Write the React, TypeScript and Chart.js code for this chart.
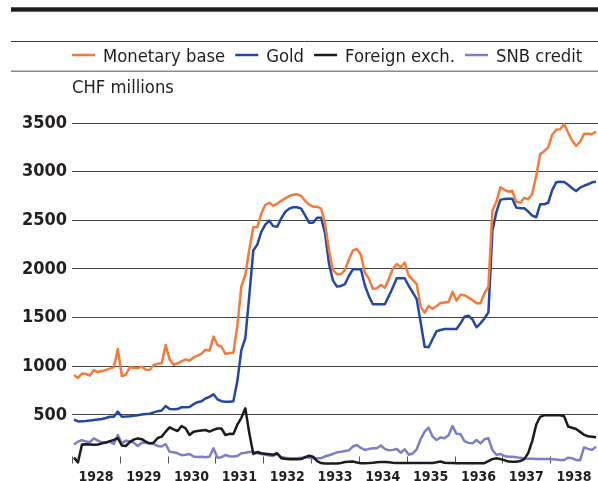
import React, { useEffect, useRef } from 'react';
import { Chart, registerables } from 'chart.js';

Chart.register(...registerables);

// Years shown on the x axis
const YEARS = [1928, 1929, 1930, 1931, 1932, 1933, 1934, 1935, 1936, 1937, 1938];
// Y axis ticks
const Y_TICKS = [0, 500, 1000, 1500, 2000, 2500, 3000, 3500];

const SERIES_LABELS = ['Monetary base', 'Gold', 'Foreign exch.', 'SNB credit'];
const SERIES_COLORS = ['#f47b3c', '#2448a0', '#1c1c1c', '#7b80c6'];

// Monthly values, CHF millions, Jan 1928 .. Dec 1938
const monetaryBase = [
  910, 880, 925, 920, 905, 960, 940, 950, 962, 975, 990, 1177,
  900, 912, 990, 985, 980, 995, 965, 961, 1013, 1025, 1030, 1218,
  1070, 1015, 1030, 1050, 1070, 1057, 1090, 1110, 1130, 1170, 1160, 1304,
  1218, 1200, 1126, 1135, 1139, 1420, 1820, 1940, 2200, 2428, 2428, 2570,
  2657, 2680, 2650, 2670, 2700, 2725, 2750, 2762, 2767, 2750, 2700, 2660,
  2640, 2640, 2620, 2470, 2190, 1990, 1945, 1945, 1990, 2100, 2190, 2205,
  2145, 1960, 1900, 1795, 1801, 1835, 1807, 1900, 2000, 2051, 2017, 2065,
  1930, 1890, 1845, 1610, 1550, 1620, 1590, 1620, 1650, 1655, 1660, 1766,
  1674, 1735, 1730, 1705, 1680, 1647, 1647, 1750, 1818, 2600, 2690, 2839,
  2815, 2794, 2804, 2690, 2681, 2730, 2716, 2770, 2960, 3180, 3210, 3250,
  3380, 3430, 3436, 3490, 3400, 3320, 3265, 3305, 3390, 3390, 3384, 3411,
];

const gold = [
  450, 432, 435, 438, 442, 448, 453, 458, 468, 480, 481, 533,
  481, 483, 486, 490, 495, 503, 509, 512, 525, 538, 545, 591,
  560, 557, 560, 578, 578, 580, 610, 630, 640, 668, 685, 711,
  660, 640, 635, 635, 640, 850, 1165, 1290, 1730, 2190, 2250, 2380,
  2455, 2496, 2440, 2434, 2520, 2585, 2620, 2634, 2634, 2620, 2550, 2475,
  2475, 2527, 2527, 2367, 2050, 1880, 1818, 1825, 1845, 1930, 1996, 1996,
  1996, 1830, 1720, 1637, 1637, 1637, 1637, 1720, 1810, 1904, 1904, 1904,
  1825, 1760, 1690, 1450, 1200, 1195, 1280, 1360, 1372, 1383, 1383, 1383,
  1383, 1440, 1509, 1519, 1480, 1400, 1440, 1490, 1554, 2390, 2585, 2710,
  2720, 2722, 2722, 2630, 2623, 2623, 2590, 2548, 2531, 2665, 2665, 2680,
  2810, 2890, 2897, 2893, 2865, 2830, 2800, 2835, 2855, 2870, 2890, 2897,
];

const foreignExch = [
  60, 12, 195, 198, 196, 192, 195, 207, 215, 230, 242, 260,
  185, 180, 220, 245, 258, 250, 225, 207, 214, 262, 276, 327,
  372, 351, 334, 385, 362, 293, 327, 335, 340, 344, 328, 345,
  360, 360, 293, 305, 303, 400, 470, 567, 310, 98, 118, 105,
  100, 95, 90, 105, 55, 48, 43, 43, 43, 45, 64, 80,
  70, 25, 5, 0, 0, 0, 0, 5, 15, 18, 20, 10,
  3, 3, 5, 8, 12, 15, 15, 12, 8, 5, 5, 5,
  5, 5, 5, 5, 5, 5, 5, 12, 20, 8, 5, 5,
  3, 3, 3, 3, 3, 3, 3, 3, 25, 45, 53, 45,
  35, 20, 19, 19, 25, 45, 110, 230, 400, 480, 495, 495,
  495, 495, 495, 485, 380, 368, 355, 325, 295, 280, 276, 270,
];

const snbCredit = [
  195, 224, 240, 225, 220, 259, 235, 218, 218, 224, 200, 293,
  207, 235, 230, 215, 180, 214, 212, 205, 200, 180, 175, 200,
  121, 115, 105, 85, 90, 98, 72, 68, 70, 65, 70, 156,
  60, 65, 87, 75, 72, 77, 105, 110, 118, 121, 105, 98,
  90, 82, 77, 98, 68, 60, 55, 53, 53, 58, 68, 60,
  53, 53, 55, 72, 85, 98, 115, 121, 128, 135, 175, 190,
  160, 139, 150, 156, 156, 185, 150, 135, 140, 149, 111, 146,
  90, 103, 146, 250, 327, 368, 276, 242, 268, 259, 290, 385,
  305, 300, 230, 212, 207, 242, 207, 249, 259, 139, 90, 98,
  78, 70, 70, 65, 58, 53, 50, 48, 46, 46, 46, 46,
  44, 40, 36, 36, 60, 55, 35, 33, 165, 150, 140, 173,
];

const SERIES = [monetaryBase, gold, foreignExch, snbCredit];

// month mid-points as decimal years
const MONTHS: number[] = YEARS.flatMap((y) =>
  Array.from({ length: 12 }, (_, m) => y + (m + 0.5) / 12)
);

const FONT_FAMILY = "'DejaVu Sans Condensed', 'DejaVu Sans', sans-serif";
const TEXT_COLOR = '#231f20';

const headerPlugin = {
  id: 'header',
  afterDraw(chart: any) {
    const { ctx, width } = chart;
    ctx.save();
    // thick top bar
    ctx.fillStyle = '#1e1e1e';
    ctx.fillRect(11, 7.3, width - 11, 4.4);
    // thin rule above legend
    ctx.strokeStyle = '#3a3a3a';
    ctx.lineWidth = 1;
    ctx.beginPath();
    ctx.moveTo(11, 41.5);
    ctx.lineTo(width, 41.5);
    ctx.stroke();
    // grey rule below legend
    ctx.strokeStyle = '#8a8a8a';
    ctx.lineWidth = 1.5;
    ctx.beginPath();
    ctx.moveTo(11, 71.3);
    ctx.lineTo(width, 71.3);
    ctx.stroke();

    // legend
    ctx.font = `18.3px ${FONT_FAMILY}`;
    ctx.textBaseline = 'alphabetic';
    ctx.textAlign = 'left';
    let x = 72;
    chart.data.datasets.forEach((ds: any) => {
      ctx.strokeStyle = ds.borderColor;
      ctx.lineWidth = 2.5;
      ctx.beginPath();
      ctx.moveTo(x, 55);
      ctx.lineTo(x + 23, 55);
      ctx.stroke();
      x += 23 + 8;
      ctx.fillStyle = TEXT_COLOR;
      ctx.fillText(ds.label, x, 62);
      x += ctx.measureText(ds.label).width + 10;
    });

    // unit label
    ctx.fillStyle = TEXT_COLOR;
    ctx.fillText('CHF millions', 72, 93);
    ctx.restore();
  },
};

const yearTickPlugin = {
  id: 'yearTicks',
  beforeDatasetsDraw(chart: any) {
    const { ctx, chartArea } = chart;
    const xs = chart.scales.x;
    ctx.save();
    ctx.strokeStyle = '#555555';
    ctx.lineWidth = 1;
    YEARS.forEach((y) => {
      const px = Math.round(xs.getPixelForValue(y)) + 0.5;
      ctx.beginPath();
      ctx.moveTo(px, chartArea.bottom);
      ctx.lineTo(px, chartArea.bottom - 7);
      ctx.stroke();
    });
    ctx.restore();
  },
};

export default function App() {
  const canvasRef = useRef<HTMLCanvasElement | null>(null);

  useEffect(() => {
    if (!canvasRef.current) return;
    const chart = new Chart(canvasRef.current, {
      type: 'line',
      data: {
        datasets: SERIES.map((vals, i) => ({
          label: SERIES_LABELS[i],
          data: MONTHS.map((m, j) => ({ x: m, y: vals[j] })),
          borderColor: SERIES_COLORS[i],
          backgroundColor: SERIES_COLORS[i],
          borderWidth: 2.5,
          pointRadius: 0,
          tension: 0,
          fill: false,
          clip: false as any,
          borderJoinStyle: 'round' as const,
        })),
      },
      options: {
        animation: false,
        responsive: true,
        maintainAspectRatio: false,
        layout: { padding: { top: 123, left: 0, right: 0, bottom: 0 } },
        plugins: {
          legend: { display: false },
          title: { display: false },
          tooltip: { enabled: false },
        },
        scales: {
          x: {
            type: 'linear',
            min: YEARS[0],
            max: YEARS[YEARS.length - 1] + 1,
            grid: { display: false },
            border: { display: false },
            afterBuildTicks: (scale: any) => {
              scale.ticks = YEARS.map((y) => ({ value: y + 0.5 }));
            },
            afterFit: (scale: any) => {
              scale.height = 17.5;
            },
            ticks: {
              autoSkip: false,
              maxRotation: 0,
              padding: -3,
              color: TEXT_COLOR,
              font: { family: FONT_FAMILY, size: 14, weight: 'bold' },
              callback: (v: any) => String(Math.floor(Number(v))),
            },
          },
          y: {
            type: 'linear',
            min: 0,
            max: 3500,
            afterBuildTicks: (scale: any) => {
              scale.ticks = Y_TICKS.map((v) => ({ value: v }));
            },
            afterFit: (scale: any) => {
              scale.width = 72;
            },
            border: { display: false },
            grid: {
              drawTicks: false,
              lineWidth: 1,
              color: (c: any) => (c.tick && c.tick.value === 0 ? 'rgba(0,0,0,0)' : '#454545'),
            },
            ticks: {
              padding: 5,
              color: TEXT_COLOR,
              font: { family: FONT_FAMILY, size: 18, weight: 'bold' },
              callback: (v: any) => (Number(v) === 0 ? '' : String(v)),
            },
          },
        },
      },
      plugins: [headerPlugin, yearTickPlugin],
    });
    return () => chart.destroy();
  }, []);

  return (
    <div style={{ position: 'absolute', left: 0, top: 0, width: 598, height: 481, background: '#fff' }}>
      <canvas ref={canvasRef} />
    </div>
  );
}
